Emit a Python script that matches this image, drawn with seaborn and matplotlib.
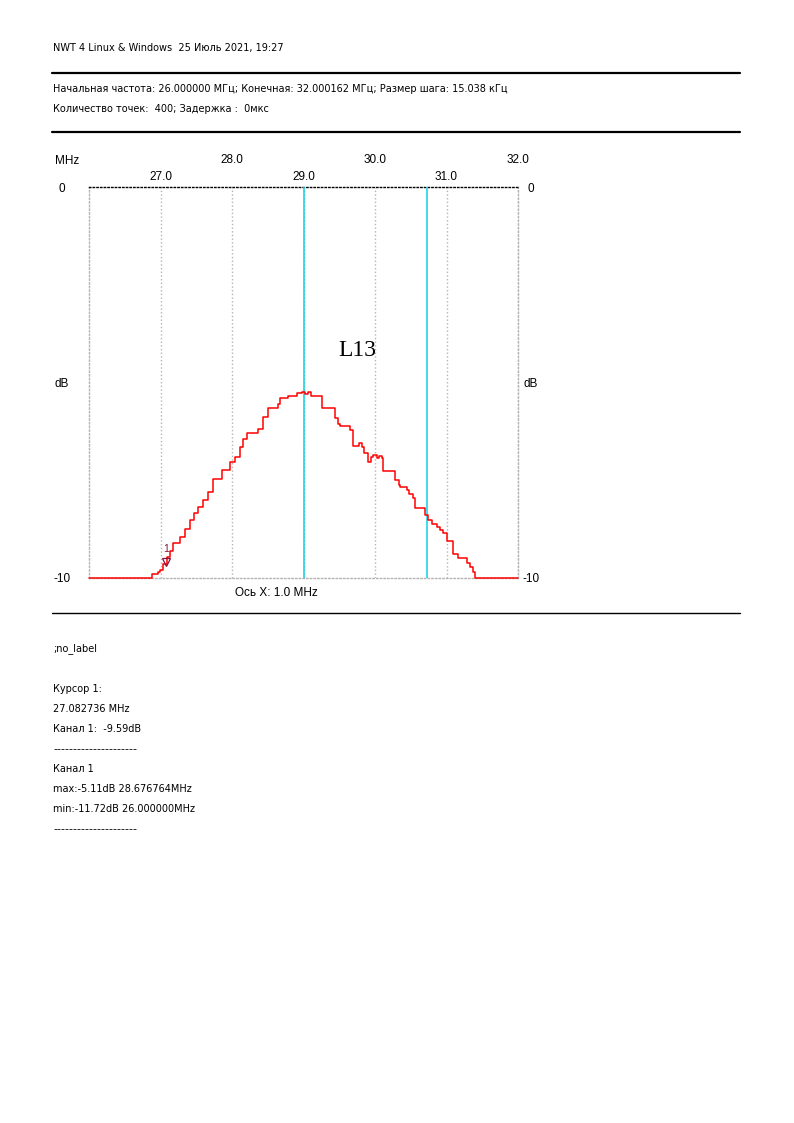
import numpy as np
import pandas as pd
import matplotlib
matplotlib.use("Agg")
import matplotlib.pyplot as plt
from matplotlib.lines import Line2D
import seaborn as sns

# ---------------- data ----------------
freq_mhz = [26.000, 26.885, 26.960, 26.993, 27.040, 27.087, 27.130, 27.179, 27.273, 27.340,
            27.413, 27.470, 27.529, 27.599, 27.660, 27.738, 27.856, 27.972, 28.040, 28.112,
            28.160, 28.206, 28.368, 28.438, 28.508, 28.648, 28.677, 28.717, 28.787, 28.905,
            28.983, 29.020, 29.067, 29.110, 29.254, 29.441, 29.480, 29.510, 29.650, 29.697,
            29.770, 29.814, 29.850, 29.906, 29.940, 29.976, 30.030, 30.060, 30.094, 30.116,
            30.280, 30.330, 30.350, 30.443, 30.480, 30.536, 30.559, 30.699, 30.745, 30.800,
            30.863, 30.910, 30.955, 31.000, 31.081, 31.095, 31.165, 31.283, 31.329, 31.375,
            31.399, 32.000]
level_db = [-10.00, -9.91, -9.85, -9.80, -9.65, -9.46, -9.30, -9.11, -8.94, -8.75,
            -8.52, -8.35, -8.18, -8.01, -7.80, -7.48, -7.24, -7.03, -6.90, -6.64,
            -6.45, -6.30, -6.20, -5.87, -5.66, -5.55, -5.40, -5.40, -5.35, -5.28,
            -5.25, -5.30, -5.25, -5.34, -5.66, -5.90, -6.05, -6.10, -6.21, -6.62,
            -6.55, -6.65, -6.80, -7.03, -6.90, -6.85, -6.94, -6.88, -6.94, -7.26,
            -7.49, -7.62, -7.67, -7.75, -7.85, -7.96, -8.22, -8.40, -8.52, -8.62,
            -8.69, -8.78, -8.86, -9.05, -9.05, -9.39, -9.50, -9.61, -9.71, -9.84,
            -10.00, -10.00]

cursor_lines_mhz = [29.0, 30.73]
cursor1_freq = 27.082736
cursor1_db = -9.59

upper_ticks = [28.0, 30.0, 32.0]
upper_labels = ["28.0", "30.0", "32.0"]
lower_ticks = [27.0, 29.0, 31.0]
lower_labels = ["27.0", "29.0", "31.0"]
y_ticks = [-10, -5, 0]
y_labels = ["-10", "dB", "0"]

header_title = "NWT 4 Linux & Windows  25 Июль 2021, 19:27"
header_line1 = "Начальная частота: 26.000000 МГц; Конечная: 32.000162 МГц; Размер шага: 15.038 кГц"
header_line2 = "Количество точек:  400; Задержка :  0мкс"
footer_lines = [";no_label", "", "Курсор 1:", "27.082736 MHz", "Канал 1:  -9.59dB",
                "---------------------", "Канал 1", "max:-5.11dB 28.676764MHz",
                "min:-11.72dB 26.000000MHz", "---------------------"]

# ---------------- figure ----------------
sns.set_style("white")
plt.rcParams["font.family"] = ["DejaVu Sans"]
plt.rcParams["text.color"] = "black"
plt.rcParams["xtick.color"] = "black"
plt.rcParams["ytick.color"] = "black"
plt.rcParams["xtick.labelcolor"] = "black"
plt.rcParams["ytick.labelcolor"] = "black"

W, H = 794, 1123
fig = plt.figure(figsize=(W / 100, H / 100), dpi=100)


def fx(px):
    return px / W


def fy(py):
    return 1 - py / H


ax = fig.add_axes([fx(89), fy(578), fx(518) - fx(89), fy(187) - fy(578)])

df = pd.DataFrame({"freq": freq_mhz, "db": level_db})
sns.lineplot(data=df, x="freq", y="db", ax=ax, color="#ff0000", linewidth=1.1,
             drawstyle="steps-post", estimator=None, sort=False, clip_on=False, zorder=4)

for c in cursor_lines_mhz:
    ax.axvline(c, color="#22d3e6", linewidth=1.2, zorder=3)

# cursor 1 marker
ax.plot([cursor1_freq], [cursor1_db], marker="v", markersize=6, markerfacecolor="none",
        markeredgecolor="#8a1040", markeredgewidth=0.9, linestyle="none", zorder=5, clip_on=False)
ax.annotate("1", (cursor1_freq, cursor1_db), xytext=(0, 6), textcoords="offset points",
            ha="center", va="bottom", fontsize=7.5, color="#8a1040",
            family="Liberation Sans")

ax.set_xlim(26, 32)
ax.set_ylim(-10, 0)
ax.set_xlabel("")
ax.set_ylabel("")

# x ticks on top, two staggered rows
ax.xaxis.tick_top()
ax.set_xticks(upper_ticks, labels=upper_labels)
ax.set_xticks(lower_ticks, labels=lower_labels, minor=True)
ax.tick_params(axis="x", which="major", length=0, pad=15, labelsize=8.5, labelcolor="black")
ax.tick_params(axis="x", which="minor", length=0, pad=3.2, labelsize=8.5, labelcolor="black")
for lab in ax.get_xticklabels(minor=False) + ax.get_xticklabels(minor=True):
    lab.set_family("Liberation Sans")
ax.grid(which="both", axis="x", linestyle=":", color="#b4b4b4", linewidth=1.0)
ax.grid(which="both", axis="y", visible=False)

# y labels left (centred under each other)
ax.set_yticks(y_ticks, labels=y_labels)
ax.tick_params(axis="y", which="both", length=0, pad=19.5, labelsize=8.5, labelcolor="black")
for lab in ax.get_yticklabels():
    lab.set_family("Liberation Sans")
    lab.set_horizontalalignment("center")

# y labels right
sec = ax.secondary_yaxis("right")
sec.set_yticks(y_ticks, labels=y_labels)
sec.tick_params(axis="y", length=0, pad=9.3, labelsize=8.5, labelcolor="black")
for lab in sec.get_yticklabels():
    lab.set_family("Liberation Sans")
    lab.set_horizontalalignment("center")
sec.spines["right"].set_visible(False)

for name, sp in ax.spines.items():
    sp.set_visible(True)
    sp.set_linestyle(":")
    sp.set_linewidth(1.0)
    sp.set_color("#b4b4b4")
ax.spines["top"].set_color("#000000")

ax.text((357 - 89) / 429, (578 - 351) / 391, "L13", transform=ax.transAxes,
        ha="center", va="center", family="Liberation Serif", fontsize=17, color="black")

fig.text(fx(67), fy(161), "MHz", ha="center", va="center", fontsize=8.5, family="Liberation Sans")
fig.text(fx(276), fy(593), "Ось X: 1.0 MHz", ha="center", va="center", fontsize=8.5,
         family="Liberation Sans")

# header
fig.text(fx(53), fy(48), header_title, ha="left", va="center", fontsize=7)
fig.text(fx(53), fy(89), header_line1, ha="left", va="center", fontsize=7)
fig.text(fx(53), fy(109), header_line2, ha="left", va="center", fontsize=7)

for yy, lw in [(73, 1.6), (132, 1.6), (613, 1.0)]:
    fig.add_artist(Line2D([fx(52), fx(740)], [fy(yy), fy(yy)], color="black", linewidth=lw))

# footer
for i, t in enumerate(footer_lines):
    if t:
        fs = 8 if t.startswith("---") else 7
        fig.text(fx(53), fy(649 + 20 * i), t, ha="left", va="center", fontsize=fs)

fig.savefig("out.png", dpi=100, facecolor="white")
